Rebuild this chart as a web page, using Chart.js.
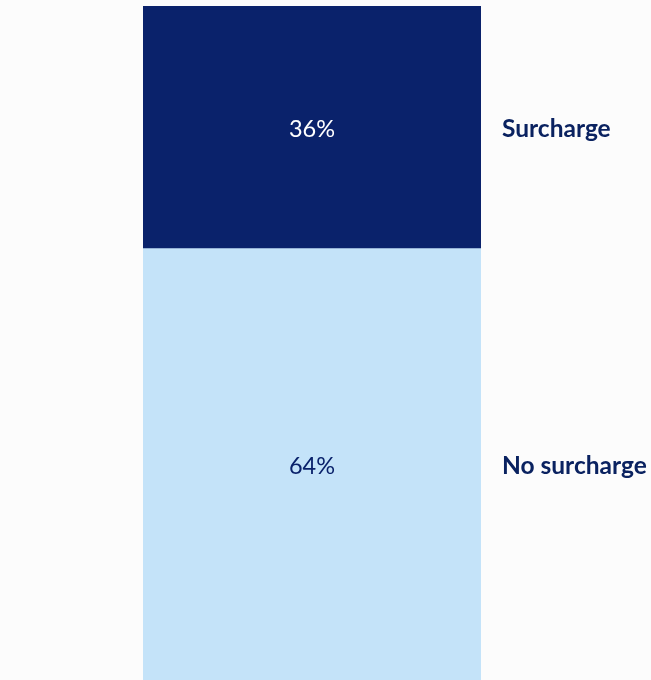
<!DOCTYPE html>
<html>
<head>
<meta charset="utf-8">
<title>Surcharge</title>
<script src="https://cdn.jsdelivr.net/npm/chart.js@4/dist/chart.umd.min.js"></script>
<style>
  html, body { margin: 0; padding: 0; background: #fcfcfc; }
  canvas { display: block; }
</style>
</head>
<body>
<canvas id="surchargeChart" width="651" height="680"></canvas>
<script>
// bottom segment first, so the stack reads top-down: Surcharge, No surcharge
var categories = ['All'];
var seriesNames = ['No surcharge', 'Surcharge'];
var noSurcharge = [64];
var surcharge = [36];
var seriesColors = ['#c4e3f9', '#0a226b'];
var valueColors = ['#0a226b', '#ffffff'];

// writes the value inside each segment and the series name beside it
var segmentLabels = {
    id: 'segmentLabels',
    afterDatasetsDraw: function(chart) {
        var ctx = chart.ctx;
        ctx.save();
        ctx.textBaseline = 'middle';
        chart.data.datasets.forEach(function(ds, i) {
            var bar = chart.getDatasetMeta(i).data[0];
            var midY = (bar.y + bar.base) / 2 + 2;
            ctx.fillStyle = valueColors[i];
            ctx.font = '23.5px Lato, "Open Sans", sans-serif';
            ctx.textAlign = 'center';
            ctx.fillText(ds.data[0] + '%', bar.x, midY);
            ctx.fillStyle = '#0a2260';
            ctx.font = 'bold 24.5px Lato, "Open Sans", sans-serif';
            ctx.textAlign = 'left';
            ctx.fillText(ds.label, bar.x + bar.width / 2 + 21, midY);
        });
        ctx.restore();
    }
};

var ctx = document.getElementById('surchargeChart').getContext('2d');
new Chart(ctx, {
    type: 'bar',
    data: {
        labels: categories,
        datasets: [{
            label: seriesNames[0],
            data: noSurcharge,
            backgroundColor: seriesColors[0]
        }, {
            label: seriesNames[1],
            data: surcharge,
            backgroundColor: seriesColors[1]
        }]
    },
    options: {
        responsive: false,
        animation: false,
        layout: { padding: { left: 143, right: 170, top: 6, bottom: 0 } },
        datasets: { bar: { barPercentage: 1, categoryPercentage: 1, borderWidth: 0 } },
        scales: {
            x: { stacked: true, display: false },
            y: { stacked: true, display: false, min: 0, max: 100 }
        },
        plugins: {
            legend: { display: false },
            tooltip: { enabled: false }
        }
    },
    plugins: [segmentLabels]
});
</script>
</body>
</html>
